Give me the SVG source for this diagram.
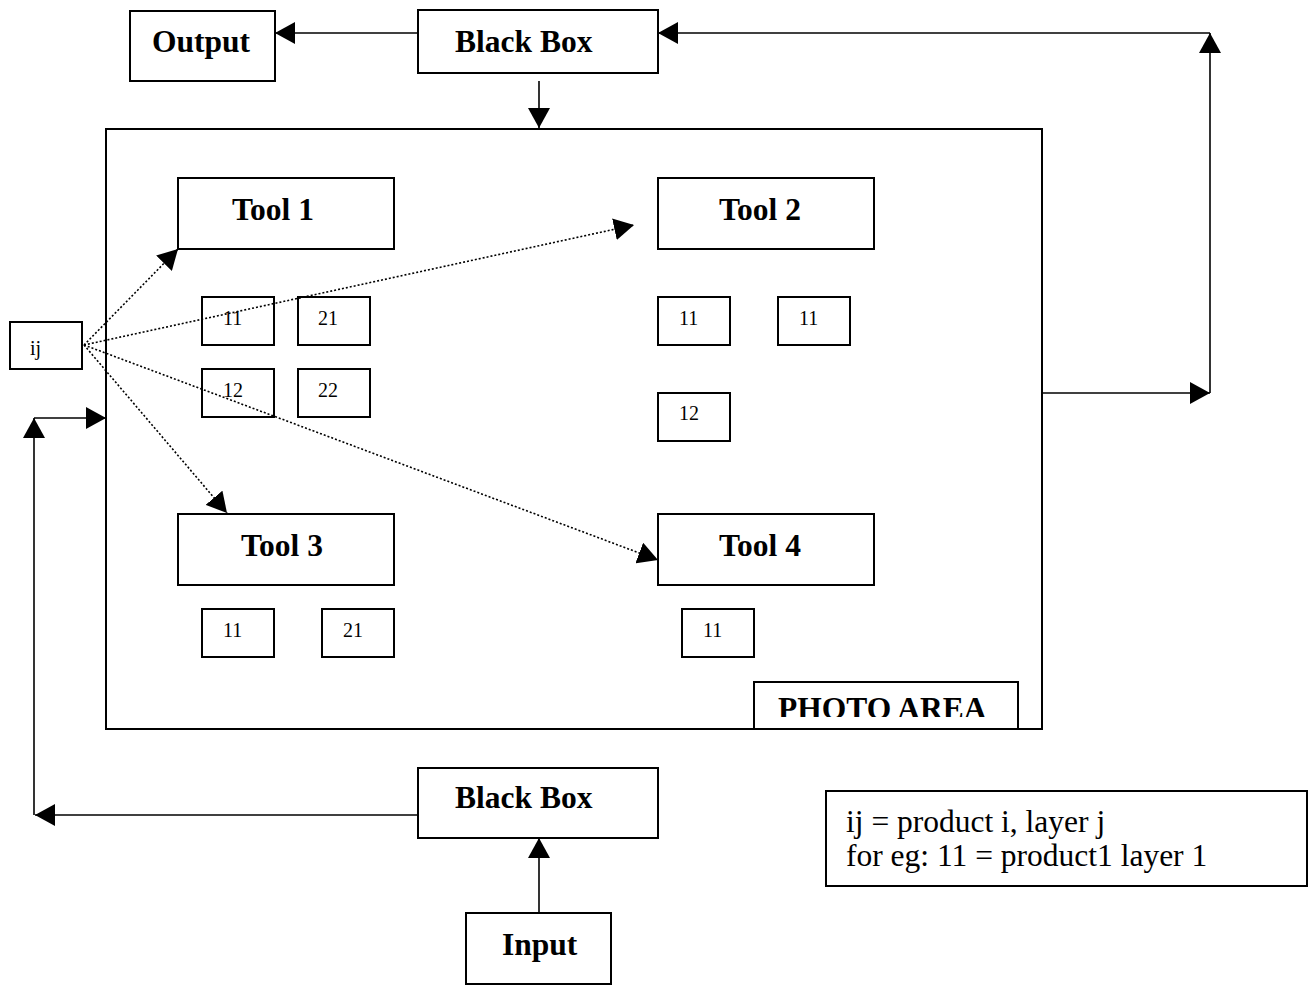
<svg xmlns="http://www.w3.org/2000/svg" width="1311" height="986" viewBox="0 0 1311 986">
<style>
  .box{fill:#fff;stroke:#000;stroke-width:2}
  .frame{fill:none;stroke:#000;stroke-width:2}
  .title{font-family:"Liberation Serif","Times New Roman",serif;font-weight:bold;font-size:31.5px;fill:#000}
  .num{font-family:"Liberation Serif","Times New Roman",serif;font-size:20px;fill:#000}
  .legend{font-family:"Liberation Serif","Times New Roman",serif;font-size:31.5px;fill:#000}
  .conn{fill:none;stroke:#000;stroke-width:1.6}
  .dot{fill:none;stroke:#000;stroke-width:1.6;stroke-dasharray:2 2}
</style>
<defs>
  <marker id="ah" markerUnits="userSpaceOnUse" markerWidth="21" markerHeight="22" refX="20" refY="11" orient="auto" viewBox="0 0 21 22">
    <path d="M0,0 L20,11 L0,22 z" fill="#000"/>
  </marker>
  <clipPath id="photoClip"><rect x="754" y="682" width="264" height="35"/></clipPath>
</defs>
<rect width="1311" height="986" fill="#fff"/>

<g id="photo-area">
  <rect class="frame" x="106" y="129" width="936" height="600"/>
</g>
<g id="photo-label">
  <rect class="box" x="754" y="682" width="264" height="47"/>
  <text class="title" x="778" y="719" clip-path="url(#photoClip)">PHOTO AREA</text>
</g>

<g id="output">
  <rect class="box" x="130" y="11" width="145" height="70"/>
  <text class="title" x="152" y="52">Output</text>
</g>
<g id="blackbox-top">
  <rect class="box" x="418" y="10" width="240" height="63"/>
  <text class="title" x="455" y="52">Black Box</text>
</g>
<g id="blackbox-bottom">
  <rect class="box" x="418" y="768" width="240" height="70"/>
  <text class="title" x="455" y="808">Black Box</text>
</g>
<g id="input">
  <rect class="box" x="466" y="913" width="145" height="71"/>
  <text class="title" x="502" y="955">Input</text>
</g>

<g id="tool1">
  <rect class="box" x="178" y="178" width="216" height="71"/>
  <text class="title" x="232" y="220">Tool 1</text>
</g>
<g id="tool2">
  <rect class="box" x="658" y="178" width="216" height="71"/>
  <text class="title" x="719" y="220">Tool 2</text>
</g>
<g id="tool3">
  <rect class="box" x="178" y="514" width="216" height="71"/>
  <text class="title" x="241" y="556">Tool 3</text>
</g>
<g id="tool4">
  <rect class="box" x="658" y="514" width="216" height="71"/>
  <text class="title" x="719" y="556">Tool 4</text>
</g>

<g id="ij">
  <rect class="box" x="10" y="322" width="72" height="47"/>
  <text class="num" x="30" y="355">ij</text>
</g>

<g id="t1-11"><rect class="box" x="202" y="297" width="72" height="48"/><text class="num" x="223" y="325">11</text></g>
<g id="t1-21"><rect class="box" x="298" y="297" width="72" height="48"/><text class="num" x="318" y="325">21</text></g>
<g id="t1-12"><rect class="box" x="202" y="369" width="72" height="48"/><text class="num" x="223" y="397">12</text></g>
<g id="t1-22"><rect class="box" x="298" y="369" width="72" height="48"/><text class="num" x="318" y="397">22</text></g>

<g id="t2-11a"><rect class="box" x="658" y="297" width="72" height="48"/><text class="num" x="679" y="325">11</text></g>
<g id="t2-11b"><rect class="box" x="778" y="297" width="72" height="48"/><text class="num" x="799" y="325">11</text></g>
<g id="t2-12"><rect class="box" x="658" y="393" width="72" height="48"/><text class="num" x="679" y="420">12</text></g>

<g id="t3-11"><rect class="box" x="202" y="609" width="72" height="48"/><text class="num" x="223" y="637">11</text></g>
<g id="t3-21"><rect class="box" x="322" y="609" width="72" height="48"/><text class="num" x="343" y="637">21</text></g>

<g id="t4-11"><rect class="box" x="682" y="609" width="72" height="48"/><text class="num" x="703" y="637">11</text></g>

<g id="legend">
  <rect class="box" x="826" y="791" width="481" height="95"/>
  <text class="legend" x="846" y="832">ij = product i, layer j</text>
  <text class="legend" x="846" y="866">for eg: 11 = product1 layer 1</text>
</g>

<g id="connectors">
  <line class="conn" x1="418" y1="33" x2="275" y2="33" marker-end="url(#ah)"/>
  <line class="conn" x1="1210" y1="33" x2="658" y2="33" marker-end="url(#ah)"/>
  <line class="conn" x1="539" y1="81" x2="539" y2="128" marker-end="url(#ah)"/>
  <line class="conn" x1="1042" y1="393" x2="1210" y2="393" marker-end="url(#ah)"/>
  <line class="conn" x1="1210" y1="393" x2="1210" y2="33" marker-end="url(#ah)"/>
  <line class="conn" x1="418" y1="815" x2="35" y2="815" marker-end="url(#ah)"/>
  <line class="conn" x1="34" y1="815" x2="34" y2="418" marker-end="url(#ah)"/>
  <line class="conn" x1="34" y1="418" x2="106" y2="418" marker-end="url(#ah)"/>
  <line class="conn" x1="539" y1="913" x2="539" y2="838" marker-end="url(#ah)"/>
  <line class="dot" x1="84" y1="345" x2="178" y2="249" marker-end="url(#ah)"/>
  <line class="dot" x1="84" y1="345" x2="634" y2="225" marker-end="url(#ah)"/>
  <line class="dot" x1="84" y1="345" x2="227" y2="513" marker-end="url(#ah)"/>
  <line class="dot" x1="84" y1="345" x2="658" y2="560" marker-end="url(#ah)"/>
</g>
</svg>
